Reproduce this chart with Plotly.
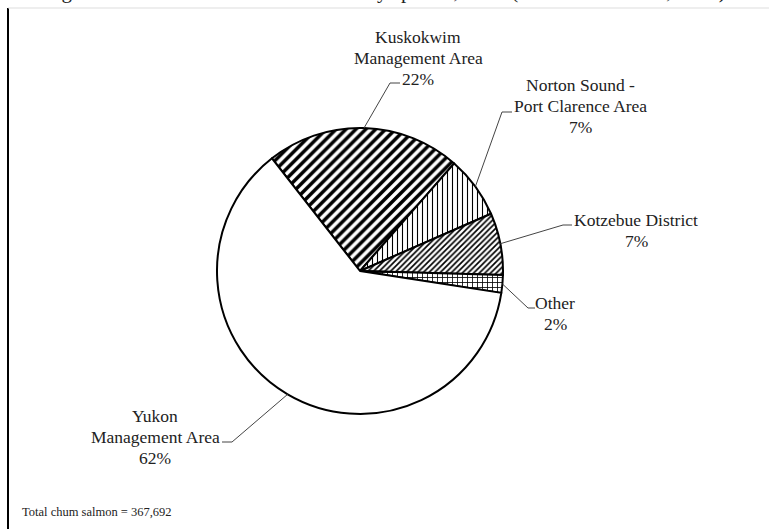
import math
import plotly.graph_objects as go

W, H = 769, 529

# slices in drawing order (clockwise from Kuskokwim)
regions = ["Kuskokwim Management Area", "Norton Sound - Port Clarence Area",
           "Kotzebue District", "Other", "Yukon Management Area"]
label_lines = [["Kuskokwim", "Management Area"],
               ["Norton Sound -", "Port Clarence Area"],
               ["Kotzebue District"],
               ["Other"],
               ["Yukon", "Management Area"]]
pct = [22, 7, 7, 2, 62]
total_chum = 367692

shapes_pat = ["/", "|", "/", "+", ""]
pat_size = [7, 5, 4, 5, 8]
pat_solid = [0.5, 0.22, 0.42, 0.3, 0.0]

# layout (pixels)
CX, CY, R = 360, 271, 143
ROT = -38
LINE_H = 21
label_xy = [(418, 58), (580, 106), (636, 230), (555, 313), (155, 437)]
elbows = [((390, 83), (400, 83)), ((502, 112), (512, 112)),
          ((563, 225), (572, 225)), ((528, 308), (535, 308)),
          ((232, 442), (222, 442))]


def px(x, y):
    return x / W, 1 - y / H


fig = go.Figure(go.Pie(
    labels=regions, values=pct, sort=False, direction="clockwise",
    rotation=ROT, textinfo="none", hoverinfo="label+percent",
    marker=dict(colors=["white"] * 5,
                line=dict(color="black", width=2),
                pattern=dict(shape=shapes_pat, fgcolor="black", bgcolor="white",
                             size=pat_size, solidity=pat_solid)),
    domain=dict(x=[(CX - R) / W, (CX + R) / W],
                y=[1 - (CY + R) / H, 1 - (CY - R) / H]),
    showlegend=False,
))

shapes = []
annots = []
lab_font = dict(family="Liberation Serif", size=17.5, color="#222")
cum = 0
tot = sum(pct)
for i, v in enumerate(pct):
    mid = math.radians(90 - ROT - 360 * (cum + v / 2) / tot)
    cum += v
    ex, ey = CX + R * math.cos(mid), CY - R * math.sin(mid)
    (bx, by), (tx, ty) = elbows[i]
    p0, p1, p2 = px(ex, ey), px(bx, by), px(tx, ty)
    shapes.append(dict(type="path", xref="paper", yref="paper",
                       path=f"M {p0[0]} {p0[1]} L {p1[0]} {p1[1]} L {p2[0]} {p2[1]}",
                       line=dict(color="#444", width=1)))
    lines = label_lines[i] + [f"{v}%"]
    cx, cy = label_xy[i]
    y0 = cy - LINE_H * (len(lines) - 1) / 2
    for k, t in enumerate(lines):
        lx, ly = px(cx, y0 + k * LINE_H)
        annots.append(dict(x=lx, y=ly, xref="paper", yref="paper", showarrow=False,
                           xanchor="center", yanchor="middle", text=t,
                           font=lab_font))

# frame
shapes.append(dict(type="line", xref="paper", yref="paper",
                   x0=8 / W, x1=8 / W, y0=0, y1=1 - 8 / H,
                   line=dict(color="black", width=2)))
shapes.append(dict(type="line", xref="paper", yref="paper",
                   x0=8 / W, x1=1, y0=1 - 8 / H, y1=1 - 8 / H,
                   line=dict(color="#ddd", width=1)))

annots.append(dict(x=20 / W, y=1 - 512 / H, xref="paper", yref="paper",
                   xanchor="left", yanchor="middle", showarrow=False,
                   text=f"Total chum salmon = {total_chum:,}",
                   font=dict(family="Liberation Serif", size=12.5, color="#222")))
# clipped caption above the frame (only its lower edge shows, as in the source)
annots.append(dict(x=385 / W, y=1 - 4 / H, xref="paper", yref="paper",
                   xanchor="center", yanchor="bottom", showarrow=False, borderpad=0,
                   text="Figure 2.–Subsistence salmon harvest by species, 2012 (Source: Fall et al., 2014)",
                   font=dict(family="Liberation Serif", size=21, color="#222")))

fig.update_layout(width=W, height=H, margin=dict(l=0, r=0, t=0, b=0),
                  paper_bgcolor="white", plot_bgcolor="white",
                  shapes=shapes, annotations=annots)
fig.write_html("out.html", config={"displayModeBar": False},
               post_script="document.body.style.margin='0';document.body.style.overflow='hidden';")
